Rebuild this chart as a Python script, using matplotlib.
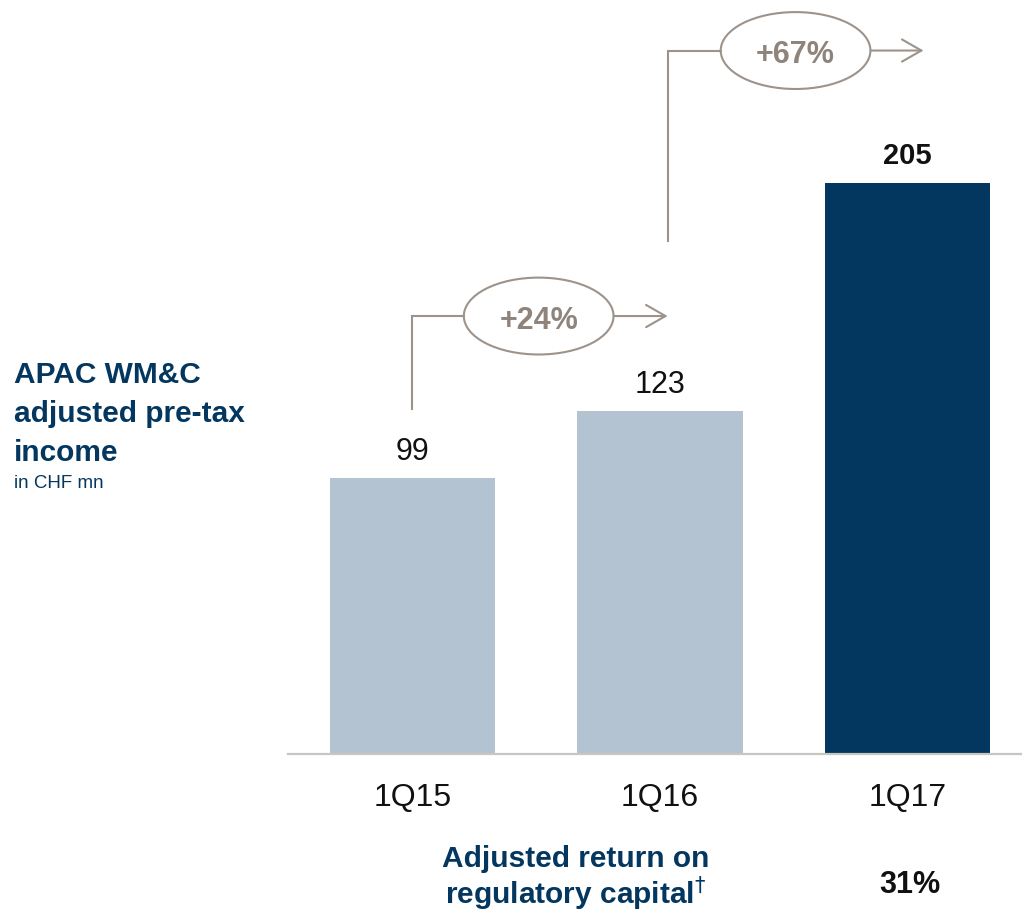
import matplotlib
matplotlib.use("Agg")
import matplotlib.pyplot as plt
from matplotlib.patches import Ellipse

plt.rcParams["font.family"] = ["Liberation Sans", "DejaVu Sans"]

quarters = ["1Q15", "1Q16", "1Q17"]
income = [99, 123, 205]
highlight = [False, False, True]
title_lines = ["APAC WM&C", "adjusted pre-tax", "income"]
unit_note = "in CHF mn"
footer_text = "Adjusted return on\nregulatory capital$^{\\dagger}$"
footer_value = "31%"

NAVY = "#03375f"; LIGHT = "#b3c3d2"; GREY = "#9d938b"; GTXT = "#8e847c"
AXIS = "#c9c5c1"; INK = "#111111"

W, H = 1022, 912
fig = plt.figure(figsize=(W / 100, H / 100), dpi=100)
ax = fig.add_axes([288 / W, (H - 755) / H, 1 - 288 / W, 755 / H])

x = list(range(len(quarters)))
colors = [NAVY if h else LIGHT for h in highlight]
ax.bar(x, income, width=0.67, color=colors, zorder=2)
ax.set_xlim(-0.503, 2.463)
ax.set_ylim(0, 271)

for s in ("left", "right", "top"):
    ax.spines[s].set_visible(False)
ax.spines["bottom"].set_color(AXIS)
ax.spines["bottom"].set_linewidth(1.6)
ax.set_yticks([])
ax.set_xticks(x)
ax.set_xticklabels(quarters, fontsize=23, color=INK)
ax.tick_params(axis="x", length=0, pad=20)

for xi, v, h in zip(x, income, highlight):
    ax.annotate(str(v), (xi, v), xytext=(0, 14), textcoords="offset points",
                ha="center", va="baseline", fontsize=21 if h else 22,
                weight="bold" if h else "normal", color=INK)

# growth connectors: bar top -> ellipse -> arrow
def connector(x0, y_start, y_line, xc, x_end, label):
    lw = 1.5
    ax.plot([x0, x0, xc - 0.303], [y_start, y_line, y_line], color=GREY, lw=lw,
            solid_joinstyle="miter", clip_on=False)
    ax.add_patch(Ellipse((xc, y_line), 0.605, 27.6, fill=False, edgecolor=GREY,
                         lw=lw, clip_on=False))
    ax.annotate("", xy=(x_end, y_line), xytext=(xc + 0.303, y_line),
                arrowprops=dict(arrowstyle="->,head_length=1.4,head_width=0.8",
                                color=GREY, lw=lw, shrinkA=0, shrinkB=0))
    ax.text(xc, y_line, label, ha="center", va="center_baseline", fontsize=22,
            weight="bold", color=GTXT)

g1 = round((income[1] / income[0] - 1) * 100)
g2 = round((income[2] / income[1] - 1) * 100)
connector(0, 124, 157.2, 0.510, 1.031, f"+{g1}%")
connector(1.031, 184, 252.5, 1.548, 2.065, f"+{g2}%")

# left title
for i, line in enumerate(title_lines):
    fig.text(14 / W, 1 - (383 + 39 * i) / H, line, fontsize=21.5, weight="bold",
             color=NAVY, va="baseline", ha="left")
fig.text(14 / W, 1 - 488 / H, unit_note, fontsize=13.5, color=NAVY,
         va="baseline", ha="left")

# footer
fig.text(576 / W, 1 - 904 / H, footer_text, fontsize=21.5, weight="bold",
         color=NAVY, va="baseline", ha="center", multialignment="center",
         linespacing=1.05)
fig.text(910 / W, 1 - 893 / H, footer_value, fontsize=22, weight="bold",
         color=INK, va="baseline", ha="center")

fig.savefig("out.png", dpi=100, facecolor="white")
